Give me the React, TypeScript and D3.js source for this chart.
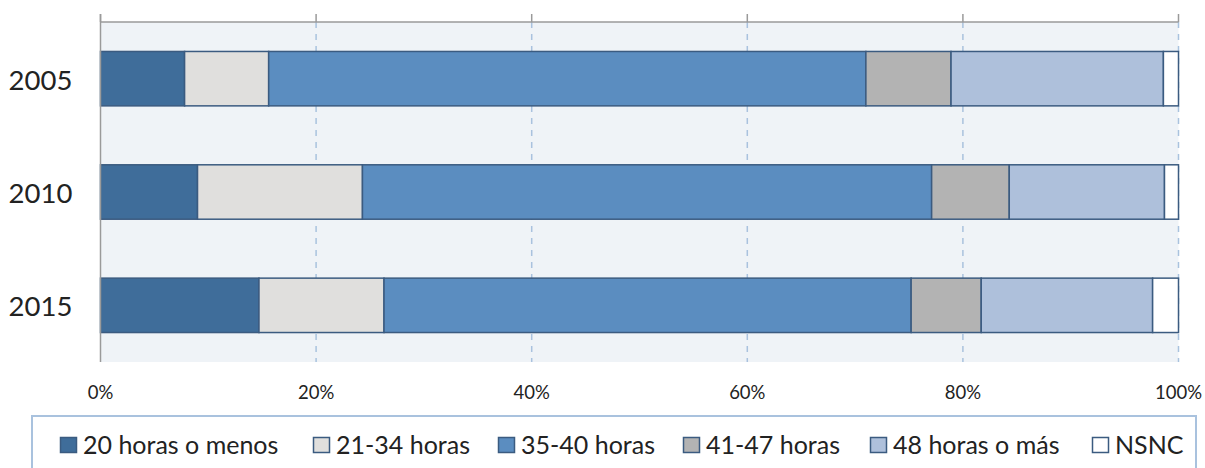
import React from "react";
import * as d3 from "d3";

const years = ["2005", "2010", "2015"];
const seriesNames = ["20 horas o menos", "21-34 horas", "35-40 horas", "41-47 horas", "48 horas o más", "NSNC"];
const s20menos = [7.8, 9.0, 14.7];
const s21a34 = [7.8, 15.3, 11.6];
const s35a40 = [55.4, 52.8, 48.9];
const s41a47 = [7.9, 7.2, 6.5];
const s48mas = [19.7, 14.4, 15.9];
const sNSNC = [1.4, 1.3, 2.4];
const tickValues = [0, 20, 40, 60, 80, 100];

const colors = ["#3f6d9a", "#e0dfdd", "#5b8dc0", "#b3b3b3", "#aec0db", "#ffffff"];
const FONT = "Lato, 'Open Sans', sans-serif";

export default function App() {
  const W = 1205, H = 468;
  const left = 100.5, right = 1178.5, top = 22, bottom = 362;
  const x = d3.scaleLinear().domain([0, 100]).range([left, right]);
  const y = d3.scaleBand<string>().domain(years).range([top, bottom]).paddingInner(0.52).paddingOuter(0.26);

  const allSeries = [s20menos, s21a34, s35a40, s41a47, s48mas, sNSNC];
  const rows = years.map((yr, i) => {
    const obj: any = { year: yr };
    seriesNames.forEach((n, k) => (obj[n] = allSeries[k][i]));
    return obj;
  });
  const stacked = d3.stack().keys(seriesNames)(rows);
  const stroke = "#3b5b80";
  const legendX = [60, 313, 498, 683, 870, 1092];

  return (
    <svg width={W} height={H} style={{ position: "absolute", left: 0, top: 0 }}>
      <rect x={left} y={top} width={right - left} height={bottom - top} fill="#eff3f7" />
      {tickValues.slice(1).map((t) => (
        <line key={"g" + t} x1={x(t)} x2={x(t)} y1={top} y2={bottom} stroke="#a9c2de" strokeWidth={1.5} strokeDasharray="6,6" />
      ))}
      {stacked.map((layer, k) =>
        layer.map((d, i) => (
          <rect
            key={k + "-" + i}
            x={x(d[0])}
            y={y(years[i])!}
            width={x(Math.min(d[1], 100)) - x(d[0])}
            height={y.bandwidth()}
            fill={colors[k]}
            stroke={stroke}
            strokeWidth={1.5}
          />
        ))
      )}
      <line x1={left} x2={right} y1={top} y2={top} stroke="#9a9a9a" strokeWidth={1.5} />
      {tickValues.map((t) => (
        <line key={"t" + t} x1={x(t)} x2={x(t)} y1={14} y2={top} stroke="#9a9a9a" strokeWidth={1.5} />
      ))}
      <line x1={left} x2={left} y1={14} y2={bottom} stroke="#9a9a9a" strokeWidth={1.5} />
      {years.map((yr) => (
        <text key={yr} x={40.5} y={y(yr)! + y.bandwidth() / 2 + 11} textAnchor="middle" fontFamily={FONT} fontSize={27.5} fill="#222">
          {yr}
        </text>
      ))}
      {tickValues.map((t) => (
        <text key={"l" + t} x={x(t)} y={399} textAnchor="middle" fontFamily={FONT} fontSize={18.5} fill="#222">
          {t + "%"}
        </text>
      ))}
      <rect x={32} y={416} width={1164} height={60} fill="#fff" stroke="#a9c2de" strokeWidth={2} />
      {seriesNames.map((n, k) => (
        <g key={n} transform={`translate(${legendX[k]},0)`}>
          <rect x={0.5} y={437.5} width={16} height={15} fill={colors[k]} stroke={stroke} strokeWidth={1.5} />
          <text x={23} y={454} fontFamily={FONT} fontSize={25} fill="#222">
            {n}
          </text>
        </g>
      ))}
    </svg>
  );
}
